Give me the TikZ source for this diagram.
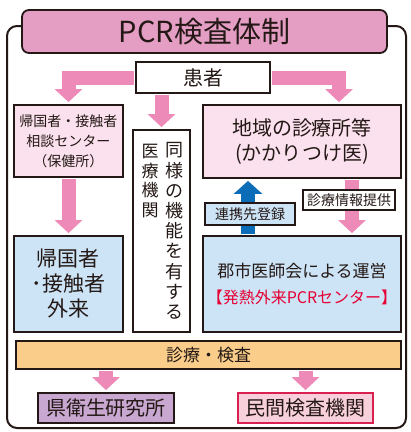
\documentclass[tikz,border=0pt]{standalone}
\usepackage{fontspec}
\setmainfont{Noto Sans CJK JP}
\usetikzlibrary{arrows.meta}

\definecolor{titlepink}{HTML}{E49DC3}
\definecolor{softpink}{HTML}{FAE1ED}
\definecolor{softblue}{HTML}{CDE4F6}
\definecolor{barorange}{HTML}{FACD8A}
\definecolor{softpurple}{HTML}{C8A8D0}
\definecolor{rosefill}{HTML}{F8D0DC}
\definecolor{roseline}{HTML}{D9204F}
\definecolor{arrowpink}{HTML}{EE8AB8}
\definecolor{arrowblue}{HTML}{0B6DB7}
\definecolor{alertred}{HTML}{E60033}
\definecolor{ink}{HTML}{231815}

\newcommand{\fs}[2]{\fontsize{#1}{#2}\selectfont}

\tikzset{
  box/.style = {draw = ink, line width = 1.8pt, inner sep = 0pt, align = center, text = ink},
  tag/.style = {draw = ink, line width = 1.4pt, inner sep = 0pt, align = center, text = ink, font = \fs{14}{16}},
  pinkarrow/.style = {draw = arrowpink, line width = 14pt, line join = miter, shorten < = 1pt, shorten > = 2pt,
    -{Triangle[width = 27pt, length = 13pt]}},
  bluearrow/.style = {draw = arrowblue, line width = 14pt, shorten < = 1pt, shorten > = 2pt,
    -{Triangle[width = 28pt, length = 13pt]}}
}

\begin{document}
\begin{tikzpicture}[x = 1pt, y = -1pt]
	\useasboundingbox (0, 0) rectangle (411, 432);
	% outer frame
	\draw[ink, line width = 2pt, rounded corners = 10pt] (7, 26) rectangle (406, 428);
	\node (title) at (204.5, 31.5) [box, fill = titlepink, rounded corners = 7pt, minimum width = 365pt, minimum height = 43pt, font = \fs{29}{32}] {PCR検査体制};
	\node (kanja) at (203, 77.5) [box, fill = white, minimum width = 134pt, minimum height = 31pt, font = \fs{20}{22}] {患者};
	% upper row
	\node (soudan) at (68.5, 141) [box, fill = softpink, minimum width = 109pt, minimum height = 72pt, font = \fs{14}{20}] {帰国者・接触者\\相談センター\\（保健所）};
	\node (iryo) at (161.5, 231) [box, fill = white, minimum width = 57pt, minimum height = 202pt] {};
		\node (iryoright) at (174, 231) [inner sep = 0pt, align = center, text = ink, font = \fs{18}{20.2}] {同\\様\\の\\機\\能\\を\\有\\す\\る};
		\node (iryoleft) at (150, 181) [inner sep = 0pt, align = center, text = ink, font = \fs{17}{19.6}] {医\\療\\機\\関};
	\node (chiiki) at (302, 141.5) [box, fill = softpink, minimum width = 198pt, minimum height = 73pt, font = \fs{20}{25}] {地域の診療所等\\(かかりつけ医)};
	% lower row
	\node (gairai) at (68.5, 284) [box, fill = softblue, minimum width = 109pt, minimum height = 96pt, font = \fs{21}{25}] {帰国者\\･接触者\\外来};
	\node (pcrc) at (302, 284) [box, fill = softblue, minimum width = 198pt, minimum height = 96pt, font = \fs{17}{32}] {郡市医師会による運営\\[-5pt]{\fs{16}{18}\color{alertred}【発熱外来PCRセンター】}};
	\node (kensa) at (208.5, 355) [box, fill = barorange, minimum width = 385pt, minimum height = 28pt, font = \fs{17}{19}] {診療・検査};
	\node (kenei) at (106, 408) [box, fill = softpurple, minimum width = 136pt, minimum height = 30pt, font = \fs{20}{22}] {県衛生研究所};
	\node (minkan) at (305.5, 408) [box, draw = roseline, fill = rosefill, minimum width = 135pt, minimum height = 30pt, font = \fs{20}{22}] {民間検査機関};
	% arrows
	\draw[pinkarrow] (kanja.west) -| (soudan.north);
	\draw[pinkarrow] (kanja.east) -| ([xshift = 37pt]chiiki.north);
	\draw[pinkarrow] (kanja.south -| iryo.north) -- (iryo.north);
	\draw[pinkarrow] (soudan.south) -- (gairai.north);
	\draw[bluearrow] ([xshift = -54pt]pcrc.north) -- ([xshift = -54pt]chiiki.south);
	\draw[pinkarrow] ([xshift = 50pt]chiiki.south) -- ([xshift = 50pt]pcrc.north);
	\draw[pinkarrow] (kensa.south -| kenei.north) -- (kenei.north);
	\draw[pinkarrow] (kensa.south -| minkan.north) -- (minkan.north);
	% arrow labels
	\node (renkei) at (250, 214) [tag, fill = softblue, minimum width = 90pt, minimum height = 22pt] {連携先登録};
	\node (teikyo) at (349, 200) [tag, fill = white, minimum width = 92pt, minimum height = 20pt] {診療情報提供};
\end{tikzpicture}
\end{document}
